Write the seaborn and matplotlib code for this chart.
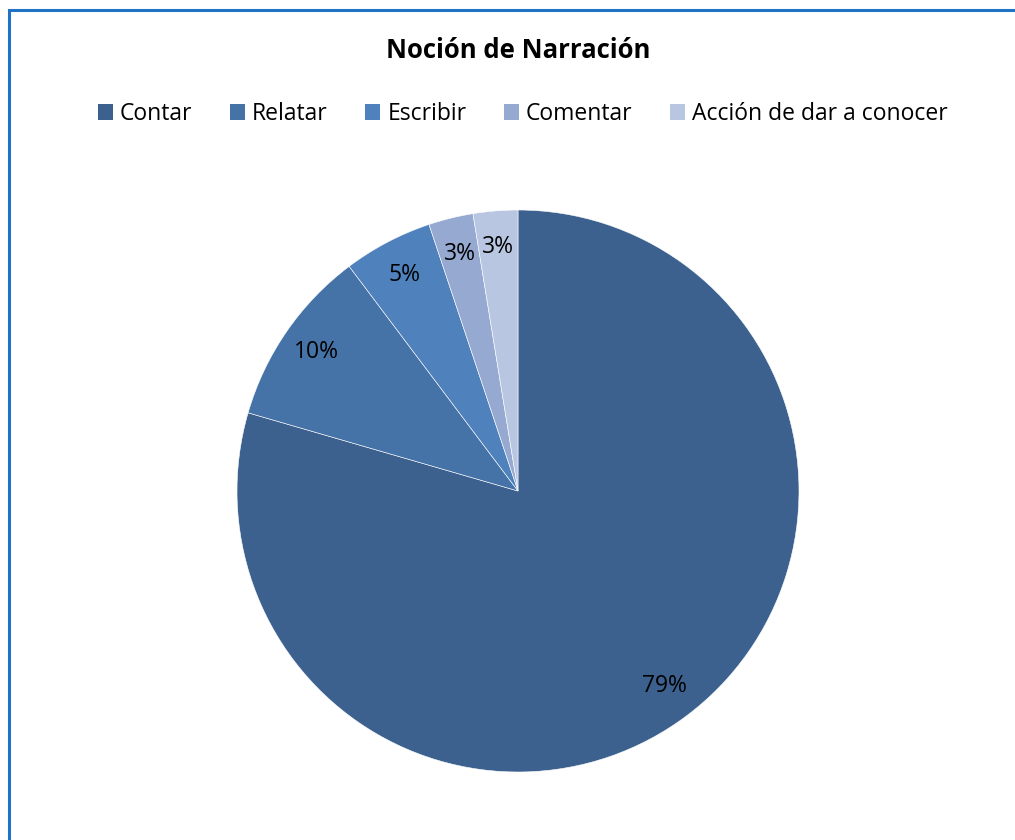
import matplotlib
matplotlib.use("Agg")
import matplotlib.pyplot as plt
from matplotlib.patches import Rectangle, Patch
import seaborn as sns

# data (counts giving 79/10/5/3/3 %)
categories = ['Contar', 'Relatar', 'Escribir', 'Comentar', 'Acción de dar a conocer']
counts = [31, 4, 2, 1, 1]
colors = ['#3C618F', '#4572A7', '#4F81BD', '#95A9D1', '#B9C6E1']

sns.set_theme(style='white')
plt.rcParams['font.family'] = ['Open Sans', 'DejaVu Sans']
plt.rcParams['text.color'] = 'black'

W, H = 1015, 840
fig = plt.figure(figsize=(W / 100, H / 100), dpi=100)
fig.patch.set_facecolor('white')

# frame of the chart area (runs off the right and bottom edges)
fig.add_artist(Rectangle((9 / W, -0.5), 2.0, (1 - 10 / H) + 0.5, transform=fig.transFigure,
                         fill=False, edgecolor='#1F72C4', linewidth=2.2))

cx, cy, r = 518, 491, 281
ax = fig.add_axes([(cx - r) / W, (H - cy - r) / H, 2 * r / W, 2 * r / H])
wedges, texts, autotexts = ax.pie(counts, colors=colors, startangle=90, counterclock=False,
                                  autopct='%.0f%%', pctdistance=0.87,
                                  wedgeprops=dict(edgecolor='white', linewidth=0.4),
                                  textprops=dict(fontsize=16.5, color='black'))
ax.set_xlim(-1, 1)
ax.set_ylim(-1, 1)
ax.set_aspect('equal')
ax.axis('off')

fig.text(518 / W, 1 - 51 / H, 'Noción de Narración', ha='center', va='center',
         fontsize=18.5, fontweight='bold', color='black')

handles = [Patch(facecolor=c, edgecolor='none') for c in colors]
fig.legend(handles, categories, loc='center', bbox_to_anchor=(523 / W, 1 - 114 / H),
           ncol=5, frameon=False, fontsize=16.5, handlelength=0.65, handleheight=0.65,
           handletextpad=0.3, columnspacing=1.65, labelcolor='black')

fig.savefig('out.png', dpi=100, facecolor='white')
